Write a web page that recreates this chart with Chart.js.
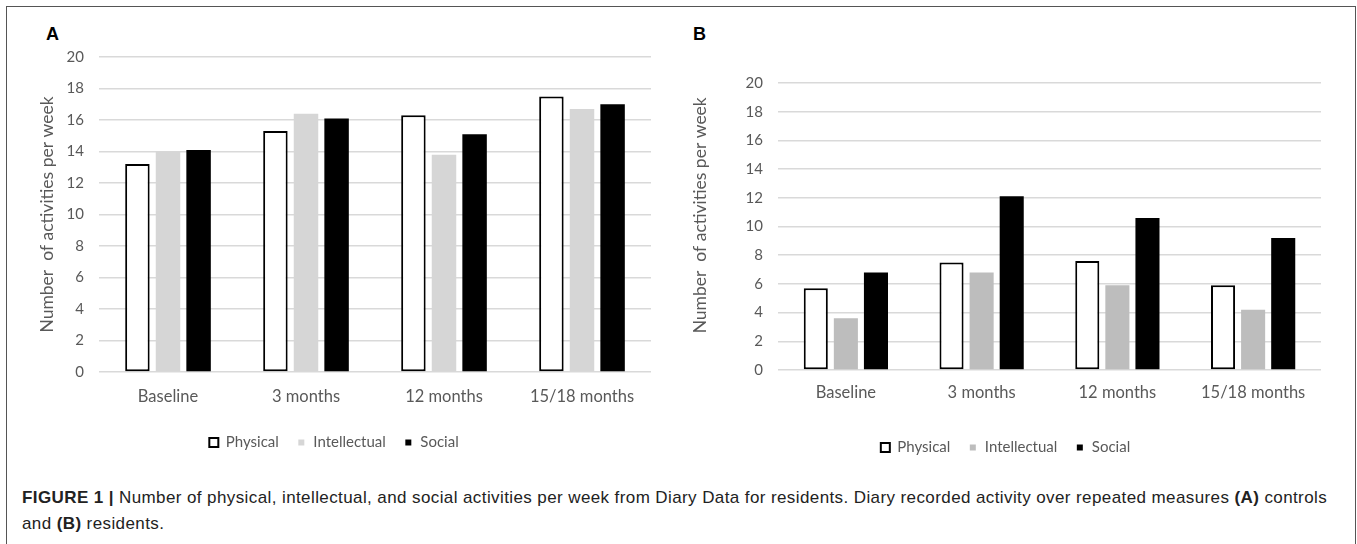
<!DOCTYPE html>
<html>
<head>
<meta charset="utf-8">
<script src="https://cdn.jsdelivr.net/npm/chart.js@4.4.1/dist/chart.umd.min.js"></script>
<style>
  body { margin: 0; background: #fff; width: 1357px; height: 544px; overflow: hidden; position: relative; font-family: "Liberation Sans", Arial, sans-serif; }
  #frame { position: absolute; left: 6px; top: 6px; width: 1350px; height: 600px; border: 1.5px solid #555; border-bottom: none; box-sizing: border-box; }
  .tag { position: absolute; top: 25px; font: bold 18px/18px "Liberation Sans", Arial, sans-serif; color: #000; }
  #chartA { position: absolute; left: 8px; top: 8px; }
  #chartB { position: absolute; left: 676px; top: 8px; }
  #caption { position: absolute; left: 22px; top: 485px; font-size: 17px; letter-spacing: 0.4px; line-height: 26px; color: #222; white-space: nowrap; }
</style>
</head>
<body>
<div id="frame"></div>
<div class="tag" style="left:46px">A</div>
<div class="tag" style="left:693px">B</div>
<canvas id="chartA" width="664" height="460"></canvas>
<canvas id="chartB" width="674" height="460"></canvas>
<div id="caption"><b>FIGURE 1 |</b> Number of physical, intellectual, and social activities per week from Diary Data for residents. Diary recorded activity over repeated measures <b>(A)</b> controls<br>and <b>(B)</b> residents.</div>

<script>
const categories = ['Baseline', '3 months', '12 months', '15/18 months'];
const seriesNames = ['Physical', 'Intellectual', 'Social'];
const yTicks = [0, 2, 4, 6, 8, 10, 12, 14, 16, 18, 20];
const yTitle = 'Number  of activities per week';

// (A) controls
const controlsPhysical = [13.2, 15.3, 16.3, 17.5];
const controlsIntellectual = [14.0, 16.4, 13.8, 16.7];
const controlsSocial = [14.1, 16.1, 15.1, 17.0];

// (B) residents
const residentsPhysical = [5.7, 7.5, 7.6, 5.9];
const residentsIntellectual = [3.6, 6.8, 5.9, 4.2];
const residentsSocial = [6.8, 12.1, 10.6, 9.2];

const textGrey = '#595959';
const tickFont = { family: 'Lato', size: 15 };
const labelFont = { family: 'Lato', size: 16.5 };
const titleFont = { family: 'Lato', size: 17.5 };

function renderPanel(id, values, greyColor, box) {
    const fills = ['#ffffff', greyColor, '#000000'];

    const datasets = values.map((data, i) => ({
        label: seriesNames[i],
        data,
        backgroundColor: fills[i],
        borderColor: '#000000',
        borderWidth: i === 0 ? 2 : 0,
        borderSkipped: false,
        categoryPercentage: 0.665,
        barPercentage: 0.8
    }));

    return new Chart(document.getElementById(id), {
        type: 'bar',
        data: { labels: categories, datasets },
        options: {
            responsive: false,
            devicePixelRatio: 1,
            animation: false,
            layout: { padding: box.padding },
            plugins: {
                tooltip: { enabled: false },
                legend: {
                    position: 'bottom',
                    labels: {
                        boxWidth: 9,
                        boxHeight: 9,
                        padding: 18,
                        color: textGrey,
                        font: tickFont,
                        // white stroke shrinks the filled squares like the Excel markers
                        generateLabels: chart => chart.data.datasets.map((ds, i) => ({
                            text: ds.label,
                            fillStyle: ds.backgroundColor,
                            strokeStyle: i === 0 ? '#000000' : '#ffffff',
                            lineWidth: i === 0 ? 2 : 3,
                            fontColor: textGrey,
                            hidden: false,
                            datasetIndex: i
                        }))
                    }
                }
            },
            scales: {
                x: {
                    grid: { display: false, drawTicks: false },
                    border: { display: false },
                    ticks: { color: textGrey, font: labelFont, padding: box.xPad },
                    afterFit: s => { s.height = box.xHeight; }
                },
                y: {
                    min: yTicks[0],
                    max: yTicks[yTicks.length - 1],
                    ticks: { stepSize: yTicks[1] - yTicks[0], color: textGrey, font: tickFont, padding: 15 },
                    grid: { color: '#d9d9d9', lineWidth: 1.5, drawTicks: false },
                    border: { display: false },
                    title: {
                        display: true,
                        // leading spaces nudge the title upward along the axis
                        text: ' '.repeat(box.titleLead) + yTitle,
                        color: textGrey,
                        font: titleFont,
                        padding: { top: box.titlePad, bottom: 0 }
                    },
                    afterFit: s => { s.width = box.yWidth; }
                }
            }
        }
    });
}

renderPanel('chartA', [controlsPhysical, controlsIntellectual, controlsSocial], '#d6d6d6', {
    padding: { top: 49, left: 9, right: 21, bottom: 8 },
    yWidth: 82, xHeight: 45, xPad: 15, titlePad: 20, titleLead: 0
});

renderPanel('chartB', [residentsPhysical, residentsIntellectual, residentsSocial], '#bdbdbd', {
    padding: { top: 75, left: 14, right: 29, bottom: 3 },
    yWidth: 88, xHeight: 52, xPad: 13, titlePad: 0, titleLead: 5
});
</script>
</body>
</html>
